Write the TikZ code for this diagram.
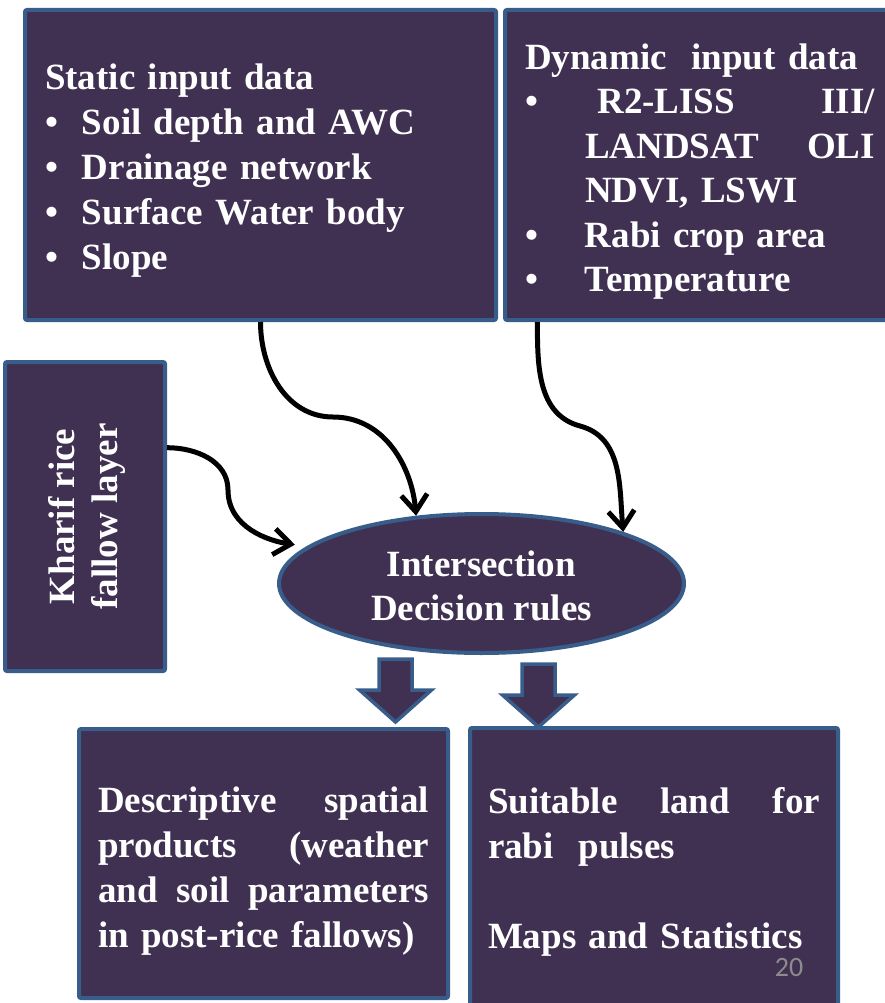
\documentclass[tikz,border=0pt]{standalone}
\usepackage{fontspec}
\setmainfont{Liberation Serif}
\newfontfamily\slidenumfont{Carlito}
\usepackage{tikz}
\usetikzlibrary{arrows.meta,positioning,shapes}
\usepackage{xcolor}

\definecolor{boxfill}{HTML}{403152}
\definecolor{boxline}{HTML}{385D8A}
\definecolor{numgray}{HTML}{8C8C8C}
\newcommand{\sbul}{\makebox[37pt][l]{\textbullet}}
\newcommand{\dbul}{\makebox[60pt][l]{\textbullet}}
\newcommand{\toppad}[1]{\rule{0pt}{#1}}

\begin{document}
\begin{tikzpicture}[
    x=1pt, y=1pt,
    box/.style={rectangle, draw=boxline, fill=boxfill, line width=4pt, rounded corners=2pt,
        text=white, font=\bfseries\fontsize{37}{45}\selectfont, inner sep=0pt, align=left},
    decision/.style={ellipse, draw=boxline, fill=boxfill, line width=4pt, text=white,
        font=\bfseries\fontsize{37}{44}\selectfont, align=center, inner sep=0pt},
    curvy/.style={-{Straight Barb[length=17pt,width=26pt]}, line width=5pt},
    blockarrow/.style={draw=boxline, fill=boxfill, line width=3.5pt, line join=miter}
]
\useasboundingbox (0,0) rectangle (885,-1003);

% Input boxes
\node[box, text width=431pt, minimum width=471pt, minimum height=310pt] (static) at (260.5,-165)
    {\toppad{37pt}Static input data\\
     \sbul Soil depth and AWC\\
     \sbul Drainage network\\
     \sbul Surface Water body\\
     \sbul Slope};
\node[box, font=\bfseries\fontsize{37}{44.4}\selectfont, text width=350pt, minimum width=390pt,
      minimum height=310pt, right=5pt of static] (dynamic)
    {\toppad{39pt}Dynamic\ \ input data\\
     \dbul\makebox[290pt][s]{\ R2-LISS\hfill III/}\\
     \hspace*{60pt}\makebox[290pt][s]{LANDSAT\hfill OLI}\\
     \hspace*{60pt}NDVI, LSWI\\
     \dbul Rabi crop area\\
     \dbul Temperature};
\node[box, minimum width=160pt, minimum height=309pt] (kharif) at (85,-516.5) {};
\node[rotate=90, text=white, align=center, font=\bfseries\fontsize{37}{42.5}\selectfont] (kharifTxt)
    at ([xshift=2pt]kharif.center) {Kharif rice\\fallow layer};

% Decision node
\node[decision, minimum width=405pt, minimum height=139pt] (inter) at (481.5,-583.5)
    {\toppad{31pt}Intersection\\Decision rules};

% Output boxes
\node[box, text width=331pt, minimum width=369pt, minimum height=269pt] (descr) at (263.5,-863.5)
    {\toppad{40pt}\makebox[331pt][s]{Descriptive\hfill spatial}\\
     \makebox[331pt][s]{products\hfill (weather}\\
     \makebox[331pt][s]{and\hfill soil\hfill parameters}\\
     in post-rice fallows)};
\node[box, text width=332pt, minimum width=368pt, minimum height=278pt] (suit) at (654,-867)
    {\toppad{36pt}\makebox[332pt][s]{Suitable\hfill land\hfill for}\\
     rabi\ \ pulses\\
     \mbox{}\\
     Maps and Statistics};
\node[text=numgray, inner sep=0pt, font=\slidenumfont\fontsize{28}{30}\selectfont] (pagenum)
    at (789,-967) {20};

% Curved arrows into the decision rules
\coordinate (bendA) at (333,-417);
\coordinate (bendB) at (580,-426);
\coordinate (bendC) at (228,-490);
\draw[curvy] (static.south) to[out=-90, in=180] (bendA) to[out=0, in=95] (inter.134);
\draw[curvy] (dynamic.224) to[out=-90, in=165] (bendB) to[out=-15, in=95] (inter.20);
\draw[curvy, shorten >=12pt] (kharif.40) to[out=0, in=90] (bendC) to[out=-90, in=172] (inter.168);

% Block arrows to the outputs
\coordinate (arrL) at (395.5,-659);
\coordinate (arrR) at (538.5,-664);
\draw[blockarrow] (arrL) ++(-16.5,0) -- ++(0,-31) -- ++(-19.5,0) -- ++(36,-32) -- ++(36,32)
    -- ++(-19.5,0) -- ++(0,31) -- cycle;
\draw[blockarrow] (arrR) ++(-16.5,0) -- ++(0,-31) -- ++(-19.5,0) -- ++(36,-32) -- ++(36,32)
    -- ++(-19.5,0) -- ++(0,31) -- cycle;

\end{tikzpicture}
\end{document}
